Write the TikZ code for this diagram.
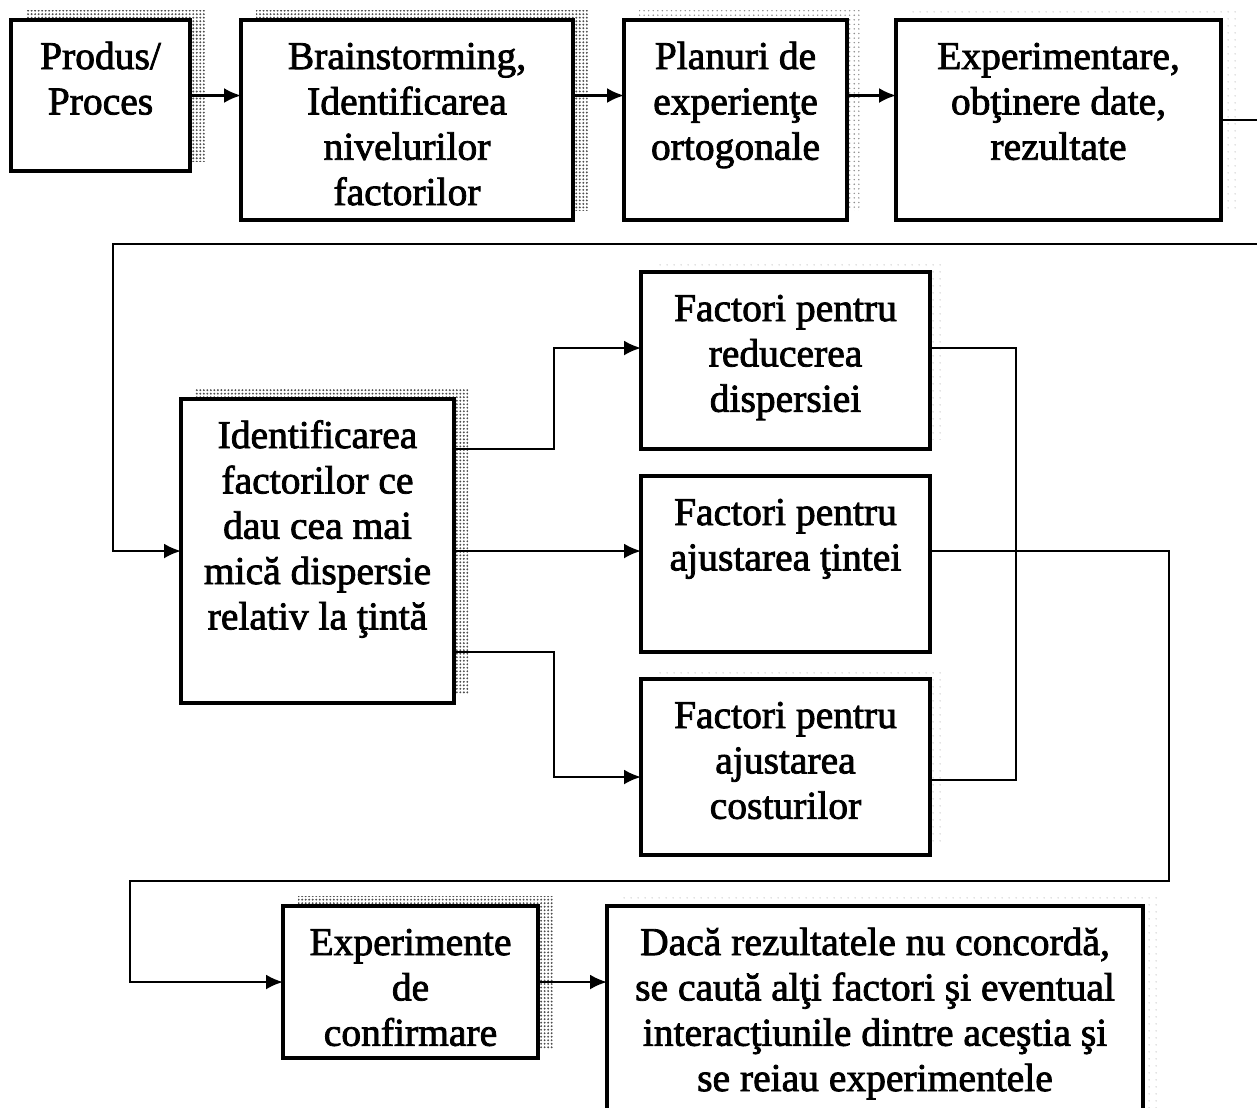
\documentclass[tikz,border=0pt]{standalone}
\usepackage{fontspec}
\usetikzlibrary{arrows.meta,patterns.meta}
% Times-metric serif, slightly emboldened for a heavy print look
\newfontfamily\boxfont{Liberation Serif}[BoldFont=Liberation Serif, BoldFeatures={FakeBold=2}]
\begin{document}
\begin{tikzpicture}[x=0.02cm,y=-0.02cm,
  wh/.style 2 args={minimum width=#1*0.02cm, minimum height=#2*0.02cm},
  box/.style={draw, line width=2pt, fill=white, inner sep=0pt, outer sep=0pt, anchor=north west},
  txt/.style={align=center, anchor=north, inner sep=0pt, yshift=-0.34cm,
    font=\boxfont\bfseries\fontsize{22.5pt}{25.8pt}\selectfont},
  line/.style={line width=1.4pt},
  conn/.style={line, -{Latex[length=0.34cm,width=0.3cm]}},
  shadestrong/.style={pattern={Dots[distance=2pt,radius=0.6pt]}, pattern color=black!70},
  shadelight/.style={pattern={Dots[distance=2.6pt,radius=0.45pt]}, pattern color=black!45},
  shadefaint/.style={pattern={Dots[distance=4pt,radius=0.4pt]}, pattern color=black!30}]
\clip (0,0) rectangle (1257,1107);
\fill[white] (0,0) rectangle (1257,1107);

% stippled shadows, offset up and to the right
\fill[shadestrong] (26,10) rectangle ++(179,151);
\fill[shadestrong] (256,10) rectangle ++(332,200);
\fill[shadelight]  (639,10) rectangle ++(223,200);
\fill[shadefaint]  (911,10) rectangle ++(325,200);
\fill[shadestrong] (195,389) rectangle ++(273,304);
\fill[shadefaint]  (656,262) rectangle ++(289,177);
\fill[shadefaint]  (656,669) rectangle ++(289,177);
\fill[shadestrong] (298,896) rectangle ++(255,152);
\fill[shadefaint]  (622,896) rectangle ++(536,240);

% process steps
\node[box, wh={179}{151}] (b1) at (11,20)
  [label={[txt]north:{\strut Produs/\\Proces}}] {};
\node[box, wh={332}{200}] (b2) at (241,20)
  [label={[txt]north:{\strut Brainstorming,\\Identificarea\\nivelurilor\\factorilor}}] {};
\node[box, wh={223}{200}] (b3) at (624,20)
  [label={[txt]north:{\strut Planuri de\\experienţe\\ortogonale}}] {};
\node[box, wh={325}{200}] (b4) at (896,20)
  [label={[txt]north:{\strut Experimentare,\\obţinere date,\\rezultate}}] {};
\node[box, wh={273}{304}] (b5) at (181,399)
  [label={[txt]north:{\strut Identificarea\\factorilor ce\\dau cea mai\\mică dispersie\\relativ la ţintă}}] {};
\node[box, wh={289}{177}] (b6) at (641,272)
  [label={[txt]north:{\strut Factori pentru\\reducerea\\dispersiei}}] {};
\node[box, wh={289}{176}] (b7) at (641,476)
  [label={[txt]north:{\strut Factori pentru\\ajustarea ţintei}}] {};
\node[box, wh={289}{176}] (b8) at (641,679)
  [label={[txt]north:{\strut Factori pentru\\ajustarea\\costurilor}}] {};
\node[box, wh={255}{152}] (b9) at (283,906)
  [label={[txt]north:{\strut Experimente\\de\\confirmare}}] {};
\node[box, wh={536}{240}] (b10) at (607,906)
  [label={[txt]north:{\strut Dacă rezultatele nu concordă,\\se caută alţi factori şi eventual\\interacţiunile dintre aceştia şi\\se reiau experimentele}}] {};

% routing points
\coordinate (r1) at (1290,120);
\coordinate (r2) at (1290,244);
\coordinate (l1) at (113,244);
\coordinate (a1) at (554,348);
\coordinate (a2) at (554,777);
\coordinate (c1) at (1016,348);
\coordinate (c2) at (1016,780);
\coordinate (d1) at (1169,551);
\coordinate (d2) at (1169,881);
\coordinate (d3) at (130,881);

% connectors
\draw[conn] (b1.east) -- (b1.east -| b2.west);
\draw[conn] (b2.east |- b1.east) -- (b1.east -| b3.west);
\draw[conn] (b3.east |- b1.east) -- (b1.east -| b4.west);
\draw[conn] (b4.east) -- (r1) -- (r2) -- (l1) |- (b5.west);
\draw[conn] (b5.east |- b6.south) -| (a1) -- (a1 -| b6.west);
\draw[conn] (b5.east) -- (b5.east -| b7.west);
\draw[conn] (b5.east |- b7.south) -| (a2) -- (a2 -| b8.west);
\draw[line] (c1 -| b6.east) -- (c1) -- (c2) -- (c2 -| b8.east);
\draw[conn] (d1 -| b7.east) -- (d1) -- (d2) -- (d3) |- (b9.west);
\draw[conn] (b9.east) -- (b9.east -| b10.west);
\end{tikzpicture}
\end{document}
